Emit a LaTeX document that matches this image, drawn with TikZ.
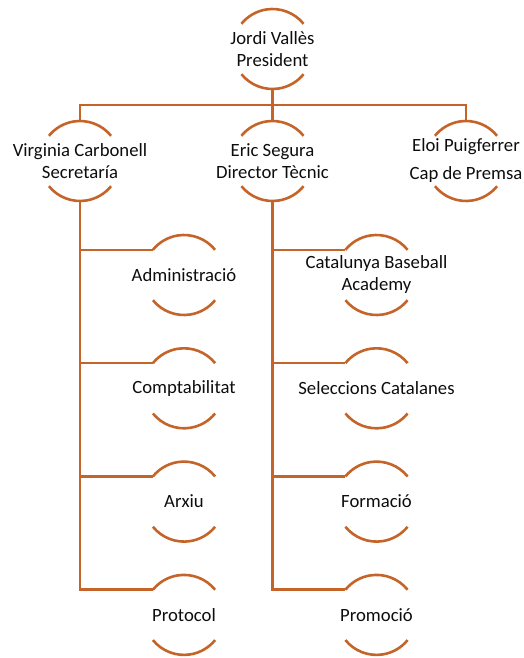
\documentclass[tikz,border=0pt]{standalone}
\usepackage{fontspec}
\setmainfont{Carlito}
\usepackage{tikz}
\usetikzlibrary{positioning}
\definecolor{orgline}{RGB}{197,100,40}
\tikzstyle{orb} = [circle, minimum size=80pt, inner sep=0pt, outer sep=0pt]
\tikzstyle{orbtext} = [font=\fontsize{18.7}{22}\selectfont, align=center, text=black!95]
\tikzstyle{wire} = [draw=orgline, line width=2.6pt]

\begin{document}
\begin{tikzpicture}[on grid]
	\useasboundingbox (0,0) rectangle (524pt,-658pt);
	% top level
	\node [orb, label={[orbtext]center:Jordi Vallès\\President}] (jordi) at (272.5pt,-49pt) {};
	\node [orb, below=112pt of jordi, label={[orbtext]center:Eric Segura\\Director Tècnic}] (eric) {};
	\node [orb, left=192.5pt of eric, label={[orbtext]center:Virginia Carbonell\\Secretaría}] (virginia) {};
	\node [orb, right=193.5pt of eric, label={[orbtext]center:Eloi Puigferrer\\[6pt]Cap de Premsa}] (eloi) {};
	% secretaria
	\node [orb, below right=114pt and 104pt of virginia, label={[orbtext]center:Administració}] (admin) {};
	\node [orb, below=113.3pt of admin, label={[orbtext]center:Comptabilitat}] (compt) {};
	\node [orb, below=113.3pt of compt, label={[orbtext]center:Arxiu}] (arxiu) {};
	\node [orb, below=113.3pt of arxiu, label={[orbtext]center:Protocol}] (protocol) {};
	% direccio tecnica
	\node [orb, below right=114pt and 104pt of eric, label={[orbtext]center:Catalunya Baseball\\Academy}] (catalunya) {};
	\node [orb, below=113.3pt of catalunya, label={[orbtext]center:Seleccions Catalanes}] (seleccions) {};
	\node [orb, below=113.3pt of seleccions, label={[orbtext]center:Formació}] (formacio) {};
	\node [orb, below=113.3pt of formacio, label={[orbtext]center:Promoció}] (promocio) {};

	\foreach \n in {jordi,virginia,eric,eloi,admin,compt,arxiu,protocol,catalunya,seleccions,formacio,promocio}
		\draw [wire] (\n.39) arc[start angle=39, end angle=141, radius=40pt]
			(\n.219) arc[start angle=219, end angle=321, radius=40pt];

	\path (jordi.south) -- coordinate[midway] (bus) (eric.north);
	\draw [wire] (jordi.south) -- (eric.north);
	\draw [wire] (virginia.north) |- (bus) -| (eloi.north);

	\foreach \n in {admin,compt,arxiu,protocol}
		\draw [wire] (virginia.south) |- (\n.141);
	\foreach \n in {catalunya,seleccions,formacio,promocio}
		\draw [wire] (eric.south) |- (\n.141);
\end{tikzpicture}
\end{document}
